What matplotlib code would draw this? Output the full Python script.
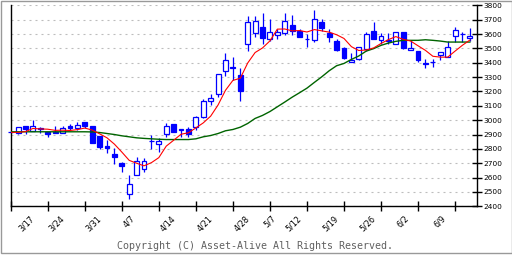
import matplotlib
matplotlib.use("Agg")
import matplotlib.pyplot as plt
from matplotlib.patches import Rectangle
from matplotlib.transforms import blended_transform_factory

plt.rcParams['lines.scale_dashes'] = False

opens = [2920, 2914, 2956, 2926, 2945, 2916, 2918, 2914, 2960, 2947, 2986, 2958, 2888, 2821, 2763,
         2700, 2488, 2621, 2663, 2858, 2837, 2907, 2972, 2937, 2935, 2951, 3021, 3132, 3181, 3339,
         3370, 3314, 3528, 3609, 3649, 3563, 3591, 3609, 3660, 3621, 3565, 3560, 3681, 3609, 3551,
         3500, 3405, 3423, 3493, 3621, 3556, 3556, 3530, 3612, 3486, 3479, 3397, 3407, 3451, 3442,
         3586, 3601, 3570]
highs = [2922, 2953, 2958, 3000, 2953, 2918, 2958, 2956, 2972, 2986, 2988, 2960, 2890, 2865, 2805,
         2712, 2616, 2744, 2735, 2895, 2879, 2979, 2972, 2937, 2953, 3030, 3144, 3179, 3321, 3465,
         3440, 3362, 3728, 3728, 3744, 3705, 3637, 3744, 3730, 3633, 3598, 3767, 3705, 3633, 3565,
         3512, 3465, 3512, 3612, 3684, 3605, 3605, 3612, 3616, 3558, 3479, 3426, 3423, 3474, 3553,
         3646, 3612, 3642]
lows = [2912, 2907, 2907, 2923, 2912, 2884, 2912, 2912, 2930, 2930, 2942, 2840, 2798, 2772, 2693,
        2640, 2451, 2621, 2640, 2800, 2779, 2884, 2916, 2884, 2884, 2932, 3012, 3109, 3160, 3305,
        3281, 3130, 3484, 3581, 3530, 3551, 3567, 3595, 3595, 3577, 3512, 3547, 3621, 3542, 3484,
        3423, 3405, 3419, 3484, 3563, 3530, 3530, 3530, 3498, 3486, 3405, 3365, 3372, 3419, 3437,
        3544, 3544, 3549]
closes = [2915, 2951, 2940, 2956, 2935, 2902, 2914, 2944, 2944, 2965, 2958, 2842, 2814, 2807, 2744,
          2681, 2553, 2714, 2719, 2855, 2853, 2956, 2916, 2930, 2907, 3019, 3133, 3153, 3321, 3416,
          3365, 3205, 3681, 3688, 3574, 3612, 3614, 3688, 3623, 3581, 3562, 3702, 3644, 3577, 3491,
          3430, 3419, 3507, 3598, 3563, 3584, 3553, 3612, 3502, 3505, 3416, 3394, 3404, 3472, 3507,
          3626, 3599, 3586]
ma_short = [2915, 2915, 2920, 2942, 2939, 2937, 2929, 2930, 2928, 2934, 2945, 2931, 2905, 2877, 2833,
            2778, 2720, 2700, 2682, 2704, 2739, 2819, 2860, 2902, 2912, 2946, 2981, 3028, 3106, 3208,
            3277, 3292, 3398, 3471, 3503, 3552, 3634, 3635, 3622, 3624, 3614, 3631, 3622, 3613, 3595,
            3569, 3512, 3485, 3489, 3503, 3534, 3561, 3582, 3563, 3551, 3518, 3486, 3445, 3439, 3439,
            3481, 3522, 3558]
ma_long = [2919, 2919, 2919, 2919, 2919, 2919, 2919, 2919, 2919, 2919, 2919, 2918, 2914, 2907, 2900,
           2891, 2884, 2877, 2873, 2870, 2867, 2865, 2865, 2865, 2865, 2870, 2884, 2893, 2907, 2926,
           2935, 2951, 2977, 3012, 3033, 3060, 3093, 3126, 3160, 3191, 3223, 3263, 3302, 3344, 3379,
           3395, 3423, 3447, 3481, 3498, 3521, 3537, 3549, 3556, 3556, 3556, 3560, 3556, 3551, 3544,
           3544, 3544, 3544]
date_labels = ["3/17", "3/24", "3/31", "4/7", "4/14", "4/21", "4/28", "5/7", "5/12", "5/19",
               "5/26", "6/2", "6/9"]
date_index = [1, 5, 10, 15, 20, 25, 30, 34, 37, 42, 47, 52, 57]
y_ticks = [2400, 2500, 2600, 2700, 2800, 2900, 3000, 3100, 3200, 3300, 3400, 3500, 3600, 3700, 3800]

W, H = 512, 256
fig = plt.figure(figsize=(W / 100, H / 100), dpi=100)
fig.patch.set_facecolor('white')

L, R, T, B = 10.7, 477.3, 5.3, 206.3
ax = fig.add_axes([L / W, 1 - B / H, (R - L) / W, (B - T) / H])
ax.set_facecolor('white')

n = len(closes)
xs = list(range(n))
blue = '#0000ff'

# wicks
ax.vlines(xs, lows, highs, color=blue, linewidth=0.9, zorder=2, clip_on=False)
# bodies
for i in xs:
    o, c = opens[i], closes[i]
    lo, hi = min(o, c), max(o, c)
    h = max(hi - lo, 3)
    up = c > o
    ax.add_patch(Rectangle((i - 0.33, lo), 0.66, h,
                           facecolor='white' if up else blue,
                           edgecolor=blue, linewidth=0.9, zorder=3, clip_on=False))

ax.plot(xs, ma_long, color='#006400', linewidth=1.0, zorder=4)
ax.plot(xs, ma_short, color='#ff0000', linewidth=0.8, zorder=5)

ax.set_xlim(0.09, 63.0)
ax.set_ylim(2400, 3800)

# grid
ax.set_yticks(y_ticks)
ax.grid(axis='y', color='#bdbdbd', linewidth=0.8, linestyle=(0, (1.44, 2.88)), zorder=0)
ax.grid(axis='x', visible=False)

# spines
for s in ['left', 'right', 'bottom']:
    ax.spines[s].set_linewidth(1.0)
    ax.spines[s].set_color('black')
ax.spines['top'].set_visible(False)

ax.yaxis.tick_right()
ax.tick_params(axis='y', which='both', direction='inout', length=6.5, width=1.0,
               labelsize=5.3, pad=1.5, colors='black', left=False, right=True)
ax.set_xticks(list(range(0, n, 5)))
ax.set_xticklabels([])
ax.tick_params(axis='x', direction='inout', length=6.5, width=1.0, colors='black')

# date labels
trans = blended_transform_factory(ax.transData, fig.transFigure)
for lab, idx in zip(date_labels, date_index):
    ax.text(idx - 0.1, 1 - 214 / H, lab, rotation=45, ha='left', va='top',
            fontsize=5.8, color='black', transform=trans, clip_on=False)

fig.text(0.498, 1 - 246 / H, "Copyright (C) Asset-Alive All Rights Reserved.",
         ha='center', va='center', family='DejaVu Sans Mono', fontsize=7.2, color='#606060')

# outer frame
fig.add_artist(Rectangle((0.5 / W, 1 - 253 / H), 511 / W, 252.5 / H, transform=fig.transFigure,
                         fill=False, edgecolor='#999999', linewidth=1.0))

fig.savefig('out.png', dpi=100, facecolor='white')
